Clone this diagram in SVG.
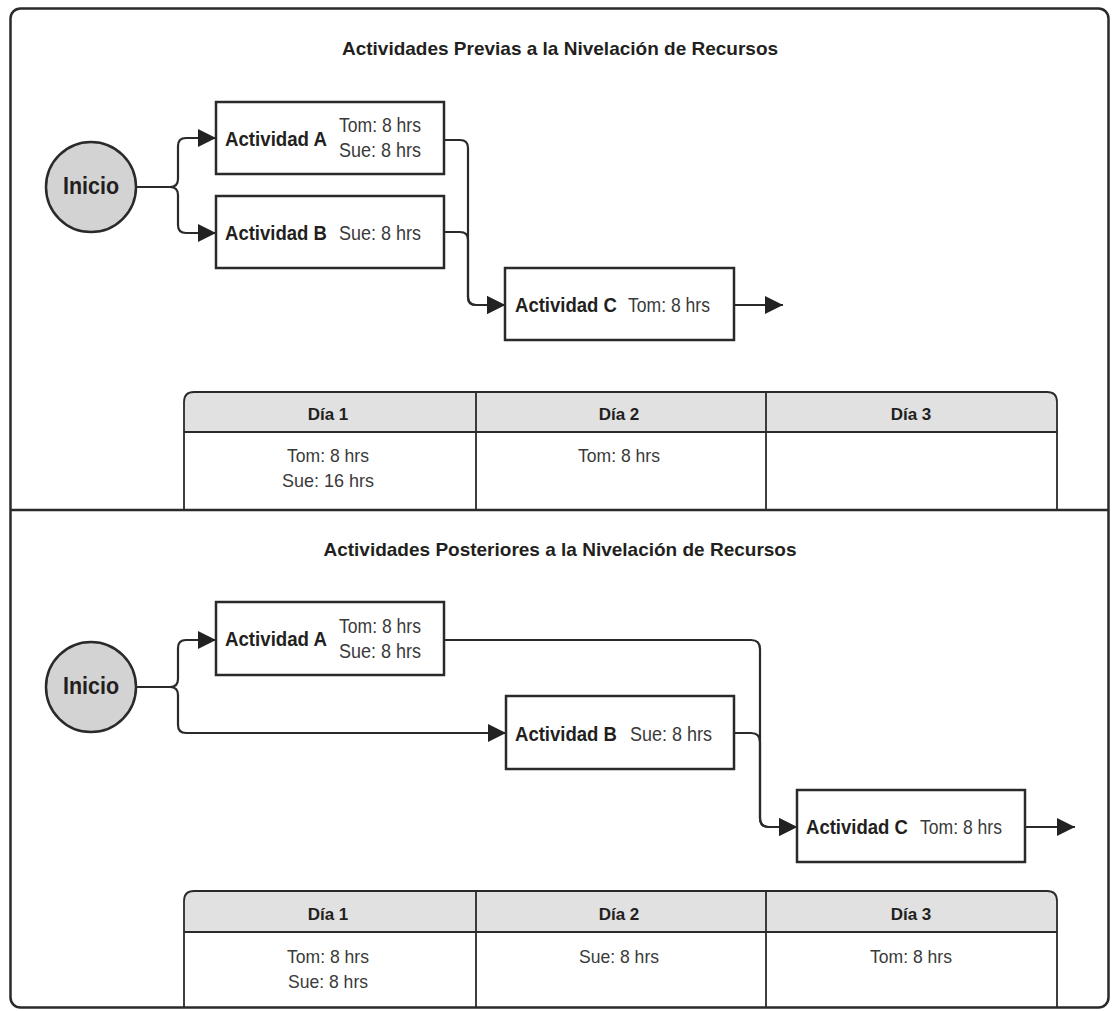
<svg xmlns="http://www.w3.org/2000/svg" width="1113" height="1011" viewBox="0 0 1113 1011">
<style>
text{font-family:"Liberation Sans",Arial,sans-serif;}
.title{font-size:19px;font-weight:bold;fill:#231f20;text-anchor:middle;}
.lbl{font-size:20px;font-weight:bold;fill:#231f20;}
.res{font-size:20px;fill:#3a3a3a;}
.ini{font-size:23px;font-weight:bold;fill:#231f20;text-anchor:middle;}
.hdr{font-size:17px;font-weight:bold;fill:#231f20;text-anchor:middle;}
.cell{font-size:18.5px;fill:#3a3a3a;text-anchor:middle;}
.box{fill:#fff;stroke:#2a2a2a;stroke-width:2.5;}
.circ{fill:#d3d3d3;stroke:#2a2a2a;stroke-width:2.5;}
.con{fill:none;stroke:#2a2a2a;stroke-width:2.2;marker-end:url(#arr);}
.frame{fill:none;stroke:#2a2a2a;stroke-width:2.5;}
.tline{fill:none;stroke:#2a2a2a;stroke-width:1.8;}
.thead{fill:#e1e1e1;stroke:none;}
</style>
<defs>
<marker id="arr" markerWidth="18" markerHeight="18" refX="18" refY="9" orient="auto" markerUnits="userSpaceOnUse">
<path d="M0,0 L18,9 L0,18 z" fill="#222"/>
</marker>
</defs>
<rect width="1113" height="1011" fill="#fff"/>
<g id="frame">
<rect class="frame" x="10.5" y="8.5" width="1098" height="999" rx="10"/>
<line class="frame" x1="10" y1="510" x2="1109" y2="510"/>
</g>
<!-- Top section -->
<text class="title" x="560" y="55">Actividades Previas a la Nivelación de Recursos</text>
<g id="connectors-top">
<path class="con" d="M136,187 H170 Q178,187 178,179 V146 Q178,138 186,138 H216"/>
<path class="con" d="M136,187 H170 Q178,187 178,195 V225 Q178,233 186,233 H216"/>
<path class="con" d="M444,140 H460 Q468,140 468,148 V297 Q468,305 476,305 H505"/>
<path class="con" d="M444,232 H460 Q468,232 468,240 V297 Q468,305 476,305 H505"/>
<path class="con" d="M734,305 H783"/>
</g>
<g id="inicio-top">
<circle class="circ" cx="91" cy="187" r="45"/>
<text class="ini" x="91" y="194" textLength="56" lengthAdjust="spacingAndGlyphs">Inicio</text>
</g>
<g id="actA-top">
<rect class="box" x="216" y="102" width="228" height="72"/>
<text class="lbl" x="225" y="146" textLength="102" lengthAdjust="spacingAndGlyphs">Actividad A</text>
<text class="res" x="339" y="132" textLength="82" lengthAdjust="spacingAndGlyphs">Tom: 8 hrs</text>
<text class="res" x="339" y="157" textLength="82" lengthAdjust="spacingAndGlyphs">Sue: 8 hrs</text>
</g>
<g id="actB-top">
<rect class="box" x="216" y="196" width="228" height="72"/>
<text class="lbl" x="225" y="240" textLength="102" lengthAdjust="spacingAndGlyphs">Actividad B</text>
<text class="res" x="339" y="240" textLength="82" lengthAdjust="spacingAndGlyphs">Sue: 8 hrs</text>
</g>
<g id="actC-top">
<rect class="box" x="505" y="268" width="229" height="72"/>
<text class="lbl" x="515" y="312" textLength="102" lengthAdjust="spacingAndGlyphs">Actividad C</text>
<text class="res" x="628" y="312" textLength="82" lengthAdjust="spacingAndGlyphs">Tom: 8 hrs</text>
</g>
<g id="table-top">
<path class="thead" d="M184,432 V402 Q184,392 194,392 H1047 Q1057,392 1057,402 V432 Z"/>
<path class="tline" d="M184,510 V402 Q184,392 194,392 H1047 Q1057,392 1057,402 V510"/>
<line class="tline" x1="184" y1="432" x2="1057" y2="432"/>
<line class="tline" x1="476" y1="392" x2="476" y2="510"/>
<line class="tline" x1="766" y1="392" x2="766" y2="510"/>
<text class="hdr" x="328" y="420">Día 1</text>
<text class="hdr" x="619" y="420">Día 2</text>
<text class="hdr" x="911" y="420">Día 3</text>
<text class="cell" x="328" y="462" textLength="82" lengthAdjust="spacingAndGlyphs">Tom: 8 hrs</text>
<text class="cell" x="328" y="487" textLength="92" lengthAdjust="spacingAndGlyphs">Sue: 16 hrs</text>
<text class="cell" x="619" y="462" textLength="82" lengthAdjust="spacingAndGlyphs">Tom: 8 hrs</text>
</g>
<!-- Bottom section -->
<text class="title" x="560" y="556">Actividades Posteriores a la Nivelación de Recursos</text>
<g id="connectors-bottom">
<path class="con" d="M136,687 H170 Q178,687 178,679 V648 Q178,640 186,640 H216"/>
<path class="con" d="M136,687 H170 Q178,687 178,695 V725 Q178,733 186,733 H506"/>
<path class="con" d="M444,640 H751 Q760,640 760,649 V818 Q760,827 769,827 H797"/>
<path class="con" d="M734,733 H751 Q760,733 760,742 V818 Q760,827 769,827 H797"/>
<path class="con" d="M1025,827 H1075"/>
</g>
<g id="inicio-bottom">
<circle class="circ" cx="91" cy="687" r="45"/>
<text class="ini" x="91" y="694" textLength="56" lengthAdjust="spacingAndGlyphs">Inicio</text>
</g>
<g id="actA-bottom">
<rect class="box" x="216" y="602" width="228" height="73"/>
<text class="lbl" x="225" y="646" textLength="102" lengthAdjust="spacingAndGlyphs">Actividad A</text>
<text class="res" x="339" y="633" textLength="82" lengthAdjust="spacingAndGlyphs">Tom: 8 hrs</text>
<text class="res" x="339" y="658" textLength="82" lengthAdjust="spacingAndGlyphs">Sue: 8 hrs</text>
</g>
<g id="actB-bottom">
<rect class="box" x="506" y="696" width="228" height="73"/>
<text class="lbl" x="515" y="741" textLength="102" lengthAdjust="spacingAndGlyphs">Actividad B</text>
<text class="res" x="630" y="741" textLength="82" lengthAdjust="spacingAndGlyphs">Sue: 8 hrs</text>
</g>
<g id="actC-bottom">
<rect class="box" x="797" y="790" width="228" height="72"/>
<text class="lbl" x="806" y="834" textLength="102" lengthAdjust="spacingAndGlyphs">Actividad C</text>
<text class="res" x="920" y="834" textLength="82" lengthAdjust="spacingAndGlyphs">Tom: 8 hrs</text>
</g>
<g id="table-bottom">
<path class="thead" d="M184,932 V901 Q184,891 194,891 H1047 Q1057,891 1057,901 V932 Z"/>
<path class="tline" d="M184,1008 V901 Q184,891 194,891 H1047 Q1057,891 1057,901 V1008"/>
<line class="tline" x1="184" y1="932" x2="1057" y2="932"/>
<line class="tline" x1="476" y1="891" x2="476" y2="1008"/>
<line class="tline" x1="766" y1="891" x2="766" y2="1008"/>
<text class="hdr" x="328" y="920">Día 1</text>
<text class="hdr" x="619" y="920">Día 2</text>
<text class="hdr" x="911" y="920">Día 3</text>
<text class="cell" x="328" y="963" textLength="82" lengthAdjust="spacingAndGlyphs">Tom: 8 hrs</text>
<text class="cell" x="328" y="988" textLength="80" lengthAdjust="spacingAndGlyphs">Sue: 8 hrs</text>
<text class="cell" x="619" y="963" textLength="80" lengthAdjust="spacingAndGlyphs">Sue: 8 hrs</text>
<text class="cell" x="911" y="963" textLength="82" lengthAdjust="spacingAndGlyphs">Tom: 8 hrs</text>
</g>
</svg>
